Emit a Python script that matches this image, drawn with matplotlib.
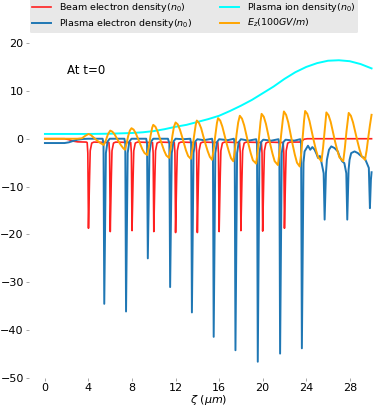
import matplotlib
matplotlib.use("Agg")
import matplotlib.pyplot as plt

# beam electron density (n0)
beam_z = [0, 1.8, 2.2, 2.6, 3.0, 3.8,
          3.88, 3.94, 4.0, 4.1, 4.16, 4.3, 4.5,
          5.88, 5.94, 6.0, 6.1, 6.16, 6.3, 6.5,
          7.88, 7.94, 8.0, 8.1, 8.16, 8.3, 8.5,
          9.88, 9.94, 10.0, 10.1, 10.16, 10.3, 10.5,
          11.88, 11.94, 12.0, 12.1, 12.16, 12.3, 12.5,
          13.88, 13.94, 14.0, 14.1, 14.16, 14.3, 14.5,
          15.88, 15.94, 16.0, 16.1, 16.16, 16.3, 16.5,
          17.88, 17.94, 18.0, 18.1, 18.16, 18.3, 18.5,
          19.88, 19.94, 20.0, 20.1, 20.16, 20.3, 20.5,
          21.88, 21.94, 22.0, 22.1, 22.16, 22.3, 22.5,
          23.4, 23.6, 23.8, 24.1, 30.0]
beam_n = [0, 0, -0.2, -0.5, -0.65, -0.7,
          -0.8, -3.0, -18.7, -8.0, -2.5, -0.9, -0.7,
          -0.8, -3.0, -19.4, -8.0, -2.5, -0.9, -0.7,
          -0.8, -3.0, -19.2, -8.0, -2.5, -0.9, -0.7,
          -0.8, -3.0, -19.4, -8.0, -2.5, -0.9, -0.7,
          -0.8, -3.0, -19.6, -8.0, -2.5, -0.9, -0.7,
          -0.8, -3.0, -19.6, -8.0, -2.5, -0.9, -0.7,
          -0.8, -3.0, -19.4, -8.0, -2.5, -0.9, -0.7,
          -0.8, -3.0, -19.2, -8.0, -2.5, -0.9, -0.7,
          -0.8, -3.0, -19.3, -8.0, -2.5, -0.9, -0.7,
          -0.8, -3.0, -18.7, -8.0, -2.5, -0.9, -0.7,
          -0.7, -0.5, -0.1, 0.0, 0.0]

# plasma electron density (n0)
elec_z = [0, 1.8, 2.2, 2.6, 3.0, 3.5, 4.0, 5.3,
          5.38, 5.45, 5.6, 5.75, 5.95, 7.3,
          7.38, 7.45, 7.6, 7.75, 7.95, 9.3,
          9.38, 9.45, 9.6, 9.75, 9.95, 11.3,
          11.43, 11.5, 11.65, 11.8, 12.0, 12.7, 13.35,
          13.43, 13.5, 13.65, 13.8, 14.0, 14.6, 15.35,
          15.43, 15.5, 15.65, 15.8, 16.0, 16.8, 17.35,
          17.43, 17.5, 17.65, 17.8, 18.0, 18.7, 19.4,
          19.48, 19.55, 19.7, 19.85, 20.05, 20.8, 21.45,
          21.53, 21.6, 21.75, 21.9, 22.1, 22.9, 23.45,
          23.53, 23.6, 23.75, 23.85, 24.16, 24.37, 24.56, 24.77,
          24.95, 25.08, 25.25, 25.38, 25.6, 25.69, 25.81, 25.9,
          26.09, 26.3, 26.6, 26.9, 27.06, 27.3, 27.5, 27.68,
          27.77, 27.89, 27.98, 28.13, 28.44, 28.74, 28.9, 29.15,
          29.36, 29.57, 29.75, 29.85, 29.94, 30.0]
elec_n = [-0.9, -0.9, -0.75, -0.45, -0.2, -0.05, 0.0, 0.0,
          -1.0, -34.5, -3.0, -0.6, 0.0, 0.0,
          -1.0, -36.1, -3.0, -0.6, 0.0, 0.0,
          -1.0, -25.0, -3.0, -0.6, 0.0, 0.0,
          -1.0, -31.0, -3.0, -0.6, 0.0, -0.1, 0.0,
          -1.0, -36.3, -3.0, -0.6, -0.1, -0.3, 0.0,
          -1.0, -41.4, -3.0, -0.7, -0.1, -0.3, 0.0,
          -1.0, -44.2, -3.0, -0.7, -0.1, -0.4, -0.1,
          -1.0, -46.6, -3.0, -0.7, -0.2, -0.4, -0.1,
          -1.0, -44.9, -3.0, -0.7, -0.2, -0.4, -0.1,
          -1.0, -43.8, -5.0, -2.65, -1.46, -2.3, -1.74, -2.3,
          -3.2, -4.0, -3.6, -4.7, -7.2, -16.9, -7.2, -4.4,
          -2.3, -1.6, -1.95, -2.65, -3.7, -4.7, -5.1, -7.2,
          -16.9, -6.5, -4.4, -3.0, -2.65, -3.0, -3.34, -3.8,
          -4.0, -5.1, -6.1, -14.5, -8.6, -7.0]

# plasma ion density (n0)
ion_z = [0, 4, 6, 8, 9, 10, 11, 12, 13, 14, 15, 16, 17, 18, 19, 20,
         21, 22, 23, 24, 25, 26, 27, 28, 29, 30]
ion_n = [1.0, 1.0, 1.05, 1.2, 1.35, 1.6, 2.0, 2.5, 2.9, 3.5, 4.1, 4.8,
         5.8, 6.9, 8.1, 9.5, 10.9, 12.5, 13.9, 15.0, 15.8, 16.3, 16.4,
         16.2, 15.6, 14.7]

# Ez (100 GV/m)
ez_z = [0, 3.0, 3.4, 3.7, 4.0, 4.2, 4.5, 4.8, 5.1, 5.4, 5.6, 5.8,
        6.0, 6.2, 6.4, 6.6, 6.8, 7.0, 7.2, 7.35, 7.5, 7.65, 7.8,
        7.95, 8.15, 8.35, 8.55, 8.75, 8.95, 9.15, 9.4, 9.55, 9.7, 9.85,
        9.95, 10.15, 10.35, 10.55, 10.75, 10.95, 11.15, 11.4, 11.55, 11.7, 11.85,
        12.0, 12.2, 12.4, 12.6, 12.8, 12.95, 13.15, 13.4, 13.55, 13.7, 13.85,
        13.95, 14.15, 14.35, 14.55, 14.75, 14.95, 15.15, 15.35, 15.5, 15.65, 15.8,
        15.9, 16.1, 16.3, 16.5, 16.7, 16.9, 17.1, 17.3, 17.45, 17.6, 17.75,
        17.9, 18.1, 18.3, 18.5, 18.7, 18.9, 19.1, 19.4, 19.55, 19.7, 19.8,
        19.9, 20.1, 20.3, 20.5, 20.7, 20.9, 21.1, 21.4, 21.55, 21.7, 21.85,
        21.95, 22.15, 22.35, 22.55, 22.75, 22.95, 23.15, 23.4, 23.55, 23.7, 23.8,
        23.9, 24.1, 24.3, 24.5, 24.7, 24.9, 25.1, 25.4, 25.55, 25.7,
        25.85, 26.05, 26.25, 26.45, 26.65, 26.85, 27.05, 27.4, 27.55, 27.7,
        27.9, 28.1, 28.3, 28.5, 28.7, 28.9, 29.1, 29.4, 29.55, 29.7, 29.85, 30.0]
ez_v = [0, 0, 0.1, 0.6, 1.0, 0.8, 0.2, -0.4, -0.9, -1.3, -0.3, 1.0,
        1.7, 1.46, 0.9, 0.1, -0.7, -1.4, -2.0, -2.3, -1.0, 0.6, 1.7,
        2.2, 1.9, 1.1, 0.0, -1.1, -2.2, -3.0, -3.4, -1.6, 0.6, 2.3,
        2.9, 2.5, 1.5, 0.1, -1.2, -2.5, -3.5, -4.0, -2.0, 0.5, 2.5,
        3.4, 3.0, 1.9, 0.4, -1.2, -2.4, -3.6, -4.2, -2.1, 0.6, 2.9,
        3.8, 3.3, 2.2, 0.5, -1.1, -2.6, -3.8, -4.4, -2.2, 0.7, 3.3,
        4.3, 3.8, 2.5, 0.7, -1.1, -2.7, -4.1, -4.7, -2.3, 0.9, 3.4,
        4.8, 4.2, 2.8, 0.8, -1.2, -3.0, -4.5, -5.2, -2.5, 1.0, 3.5,
        5.2, 4.6, 3.1, 0.9, -1.2, -3.1, -4.7, -5.5, -2.7, 0.9, 4.0,
        5.7, 5.0, 3.4, 1.1, -1.2, -3.3, -5.0, -5.8, -2.8, 1.0, 3.8,
        5.8, 5.2, 3.7, 1.6, -0.5, -2.4, -3.9, -4.7, -1.8, 1.8,
        5.5, 4.9, 3.5, 1.4, -0.6, -2.4, -3.9, -4.7, -1.9, 1.6,
        5.4, 4.8, 3.4, 1.4, -0.5, -2.3, -3.7, -4.4, -2.4, 0.3, 2.8, 5.0]

fig = plt.figure(figsize=(3.88, 4.09), dpi=100)
ax = fig.add_axes([0.0737, 0.0758, 0.926, 0.819])

ax.plot(beam_z, beam_n, color="#ff2020", lw=1.2, label="Beam electron density($n_0$)")
ax.plot(elec_z, elec_n, color="#1f77b4", lw=1.4, label="Plasma electron density($n_0$)")
ax.plot(ion_z, ion_n, color="cyan", lw=1.4, label="Plasma ion density($n_0$)")
ax.plot(ez_z, ez_v, color="orange", lw=1.4, label="$E_z(100GV/m)$")

ax.text(2, 13.5, "At t=0", fontsize=8.5)

ax.set_xlim(-1.5, 31.5)
ax.set_ylim(-50, 20)
ax.set_xticks(range(0, 29, 4))
ax.set_yticks(range(-50, 21, 10))
ax.tick_params(labelsize=8, length=2, width=0.6, color="0.6", pad=1.5)
for s in ax.spines.values():
    s.set_visible(False)
ax.set_xlabel(r"$\zeta\ (\mu m)$", fontsize=8, labelpad=0)

fig.legend(loc="upper center", bbox_to_anchor=(0.5, 1.016), ncol=2,
           fontsize=6.8, facecolor="#e8e8e8", edgecolor="none", framealpha=1,
           columnspacing=3.0, borderpad=0.3, labelspacing=0.3,
           handlelength=2.0, handletextpad=0.8)

fig.savefig("out.png", dpi=100)
